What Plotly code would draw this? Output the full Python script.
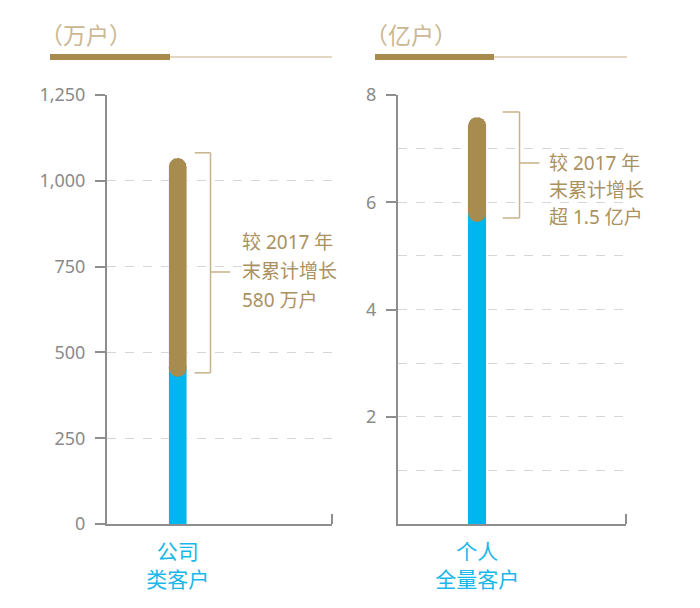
import plotly.graph_objects as go

# ---------------- data ----------------
categories_left = ["公司<br>类客户"]
categories_right = ["个人<br>全量客户"]
base_left = [455]      # 2017年末, 万户
incr_left = [612]      # 增量, 万户
base_right = [5.80]    # 2017年末, 亿户
incr_right = [1.79]    # 增量, 亿户
unit_left = "（万户）"
unit_right = "（亿户）"
note_left = ["较 2017 年", "末累计增长", "580 万户"]
note_right = ["较 2017 年", "末累计增长", "超 1.5 亿户"]
ticks_left = [0, 250, 500, 750, 1000, 1250]
ticks_right = [2, 4, 6, 8]

# ---------------- style ----------------
W, H = 700, 608
BLUE = "#00b6ee"
BLUE_TXT = "#1ab7ea"
GOLD = "#a88b4f"
GOLD_TXT = "#ab9160"
HEAD_TXT = "#cbb792"
THIN = "#e3d7c1"
AXIS = "#8e8e8e"
GRID = "#d6d6d6"
TICK_TXT = "#8a8a8a"
FONT = "Noto Sans, Noto Sans CJK SC, sans-serif"


def px(x):
    return x / W


def py(y):
    return 1 - y / H


fig = go.Figure()
fig.add_trace(go.Bar(x=categories_left, y=base_left, width=1, marker=dict(color=BLUE),
                     xaxis="x", yaxis="y", hoverinfo="skip"))
fig.add_trace(go.Bar(x=categories_left, y=incr_left, width=1, marker=dict(color=GOLD, cornerradius=9),
                     xaxis="x", yaxis="y", hoverinfo="skip"))
fig.add_trace(go.Bar(x=categories_right, y=base_right, width=1, marker=dict(color=BLUE),
                     xaxis="x2", yaxis="y2", hoverinfo="skip"))
fig.add_trace(go.Bar(x=categories_right, y=incr_right, width=1, marker=dict(color=GOLD, cornerradius=9),
                     xaxis="x2", yaxis="y2", hoverinfo="skip"))
# rounded lower end of the gold segment
fig.add_trace(go.Scatter(x=categories_left, y=base_left, mode="markers", xaxis="x", yaxis="y",
                         marker=dict(color=GOLD, size=18, line=dict(width=0)), hoverinfo="skip"))
fig.add_trace(go.Scatter(x=categories_right, y=base_right, mode="markers", xaxis="x2", yaxis="y2",
                         marker=dict(color=GOLD, size=18, line=dict(width=0)), hoverinfo="skip"))

xcommon = dict(type="category", showline=True, linecolor=AXIS, linewidth=2, showgrid=False,
               ticks="outside", ticklen=8, tickcolor="rgba(0,0,0,0)", automargin=False,
               tickfont=dict(size=21, color=BLUE_TXT, family=FONT), fixedrange=True)
ycommon = dict(showline=True, linecolor=AXIS, linewidth=2, ticks="outside", ticklen=10, tickwidth=2,
               tickcolor=AXIS, showgrid=True, gridcolor=GRID, griddash="dash", gridwidth=1,
               zeroline=False, tickfont=dict(size=18, color=TICK_TXT, family=FONT), automargin=False,
               ticklabelstandoff=6, fixedrange=True)

fig.update_layout(
    width=W, height=H, margin=dict(l=0, r=0, t=0, b=0, pad=0, autoexpand=False),
    paper_bgcolor="white", plot_bgcolor="white", showlegend=False, barmode="stack",
    font=dict(family=FONT),
    xaxis=dict(domain=[px(107), px(332)], anchor="y", range=[-3.94, 8.6], **xcommon),
    yaxis=dict(domain=[py(524), py(95)], anchor="x", range=[0, 1250], tickvals=ticks_left,
               tickformat=",", **ycommon),
    xaxis2=dict(domain=[px(398), px(626)], anchor="y2", range=[-4.28, 8.05], **xcommon),
    yaxis2=dict(domain=[py(524), py(95)], anchor="x2", range=[0, 8], tickvals=ticks_right,
                minor=dict(dtick=1, showgrid=True, gridcolor=GRID, griddash="dash", ticks=""),
                **ycommon),
)

shapes = []
# header bars
for x0, xm, x1 in [(50, 170, 332), (375, 494, 627)]:
    shapes.append(dict(type="line", xref="paper", yref="paper", x0=px(xm), x1=px(x1), y0=py(57), y1=py(57),
                       line=dict(color=THIN, width=2)))
    shapes.append(dict(type="line", xref="paper", yref="paper", x0=px(x0), x1=px(xm), y0=py(57), y1=py(57),
                       line=dict(color=GOLD, width=6)))
# small end ticks on x axes
for xr in ["x domain", "x2 domain"]:
    yr = "y domain" if xr == "x domain" else "y2 domain"
    shapes.append(dict(type="line", xref=xr, yref=yr, x0=1, x1=1, y0=0, y1=10 / 429,
                       line=dict(color=AXIS, width=2)))


# brackets tied to data values
def bracket(xr, yr, base, total, xv, xl, xm, ymid_px):
    c = dict(color="#c7b28a", width=1.5)
    out = []
    out.append(dict(type="line", xref=xr, yref=yr, ysizemode="pixel", yanchor=total, x0=xl, x1=xv, y0=5, y1=5, line=c))
    out.append(dict(type="line", xref=xr, yref=yr, ysizemode="pixel", yanchor=base, x0=xl, x1=xv, y0=-5, y1=-5, line=c))
    out.append(dict(type="line", xref=xr, yref=yr, ysizemode="pixel", yanchor=base, x0=xv, x1=xv, y0=-5,
                    y1=0, line=c))
    out.append(dict(type="path", xref=xr, yref=yr, path=f"M {xv},{total} L {xv},{base}", line=c))
    out.append(dict(type="line", xref=xr, yref=yr, ysizemode="pixel", yanchor=total, x0=xv, x1=xv, y0=0,
                    y1=5, line=c))
    out.append(dict(type="line", xref=xr, yref="paper", x0=xv, x1=xm, y0=py(ymid_px), y1=py(ymid_px), line=c))
    return out


tot_l = base_left[0] + incr_left[0]
tot_r = base_right[0] + incr_right[0]
shapes += bracket("x domain", "y", base_left[0], tot_l, 0.46, 0.39, 0.548, 272)
shapes += bracket("x2 domain", "y2", base_right[0], tot_r, 0.533, 0.459, 0.62, 163)

annotations = []
annotations.append(dict(text=unit_left, xref="paper", yref="paper", x=px(86), y=py(35), xanchor="center",
                        yanchor="middle", showarrow=False, font=dict(size=23, color=HEAD_TXT, family=FONT)))
annotations.append(dict(text=unit_right, xref="paper", yref="paper", x=px(411), y=py(35), xanchor="center",
                        yanchor="middle", showarrow=False, font=dict(size=23, color=HEAD_TXT, family=FONT)))
for i, t in enumerate(note_left):
    annotations.append(dict(text=t, xref="paper", yref="paper", x=px(240), y=py(242 + 29 * i), xanchor="left",
                            yanchor="middle", showarrow=False, font=dict(size=19, color=GOLD_TXT, family=FONT)))
for i, t in enumerate(note_right):
    annotations.append(dict(text=t, xref="paper", yref="paper", x=px(547), y=py(163 + 27 * i), xanchor="left",
                            yanchor="middle", showarrow=False, font=dict(size=19, color=GOLD_TXT, family=FONT)))

fig.update_layout(shapes=shapes, annotations=annotations)
fig.write_html("out.html")
